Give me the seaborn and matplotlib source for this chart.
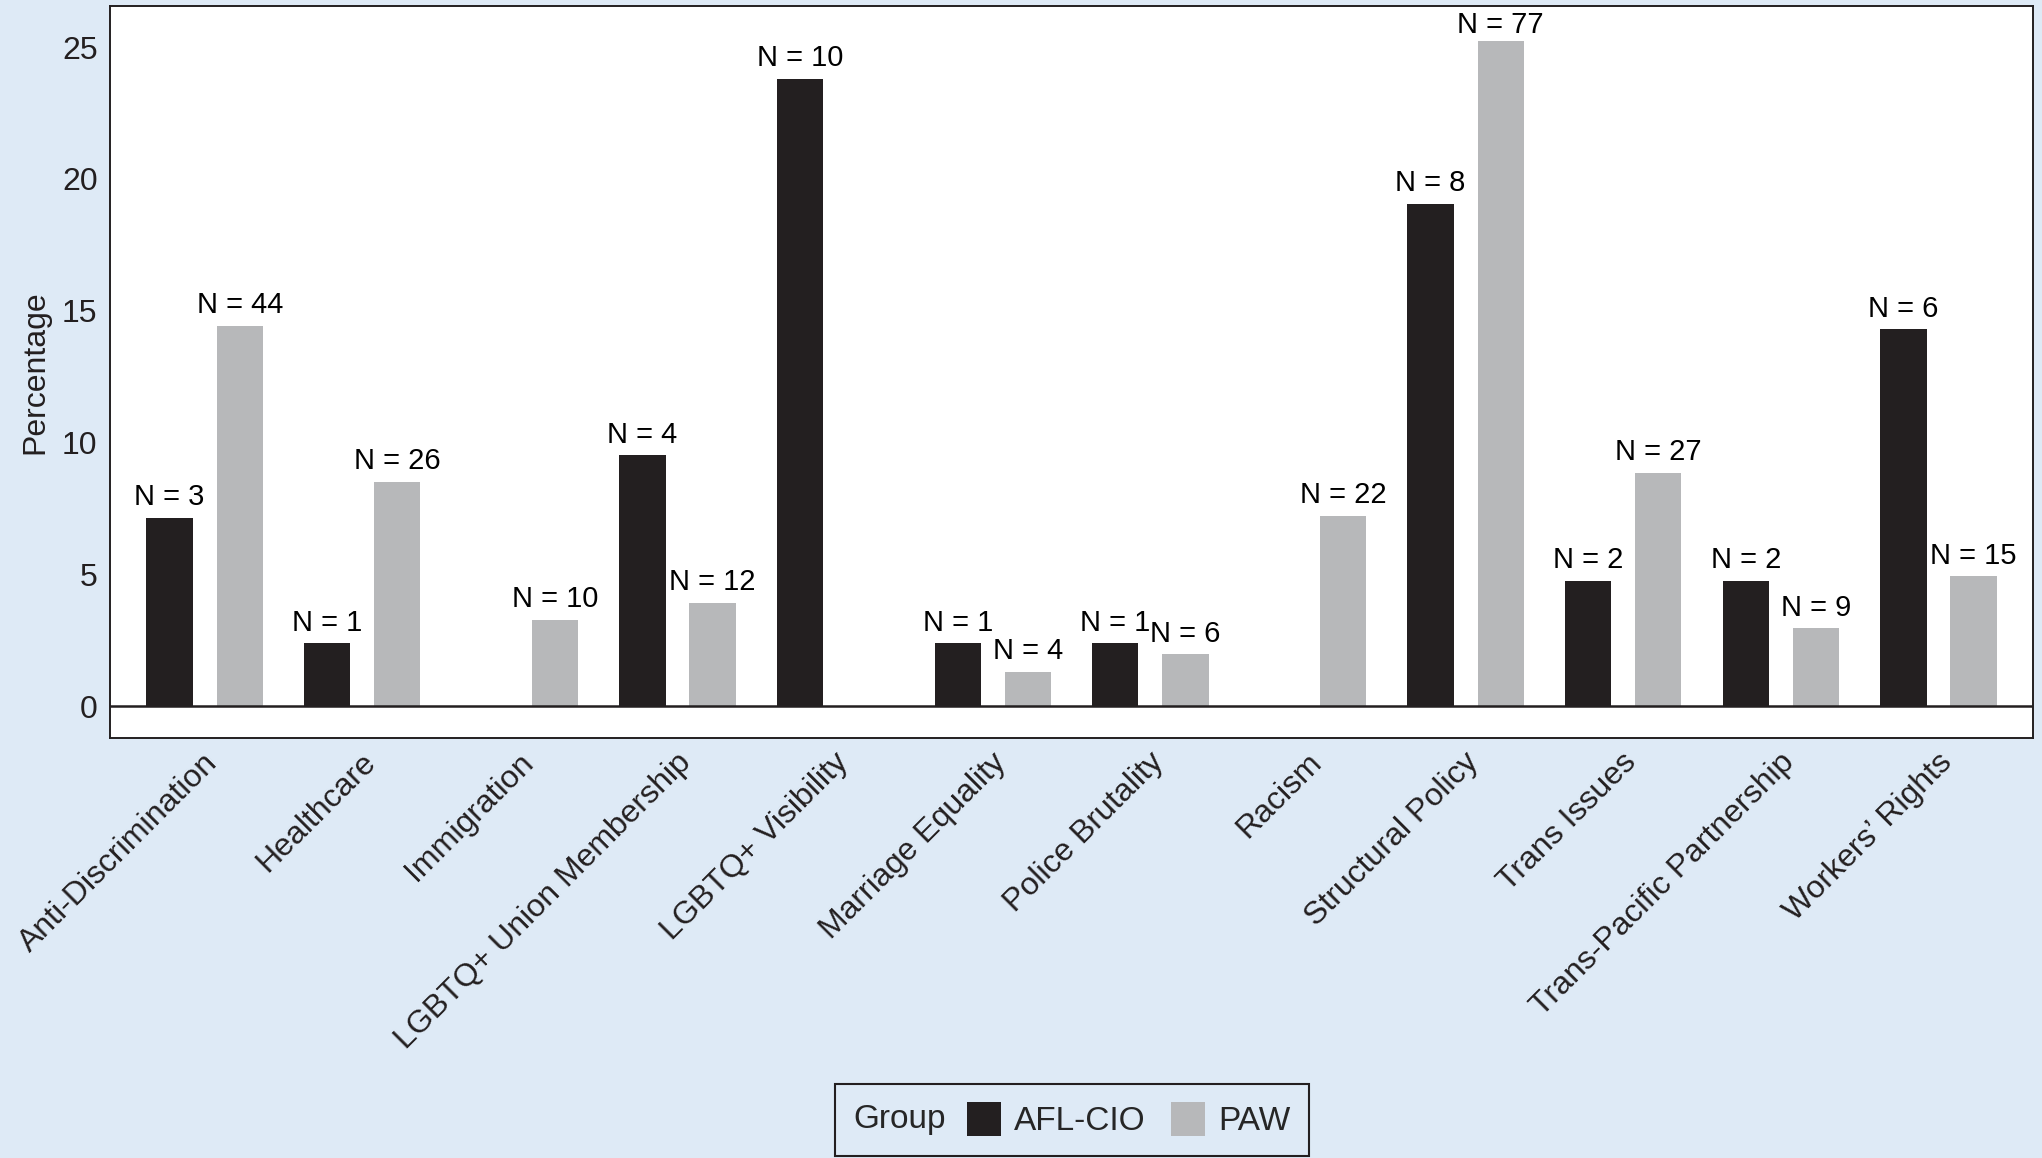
import pandas as pd
import matplotlib.pyplot as plt
import matplotlib.transforms as mtransforms
import seaborn as sns
from matplotlib.patches import Patch
from matplotlib.offsetbox import HPacker

# --- Data ---
topics = [
    "Anti-Discrimination", "Healthcare", "Immigration", "LGBTQ+ Union Membership",
    "LGBTQ+ Visibility", "Marriage Equality", "Police Brutality", "Racism",
    "Structural Policy", "Trans Issues", "Trans-Pacific Partnership", "Workers’ Rights",
]
groups = ["AFL-CIO", "PAW"]
afl_pct = [7.14, 2.38, 0, 9.52, 23.81, 2.38, 2.38, 0, 19.05, 4.76, 4.76, 14.29]
paw_pct = [14.43, 8.52, 3.28, 3.93, 0, 1.31, 1.97, 7.21, 25.25, 8.85, 2.95, 4.92]
afl_n = [3, 1, None, 4, 10, 1, 1, None, 8, 2, 2, 6]
paw_n = [44, 26, 10, 12, None, 4, 6, 22, 77, 27, 9, 15]

BG = "#deeaf6"
DARK = "#231f20"
GREY = "#b7b8ba"

df = pd.DataFrame({
    "Topic": topics * 2,
    "Group": [groups[0]] * len(topics) + [groups[1]] * len(topics),
    "Percentage": afl_pct + paw_pct,
})
n_labels = {groups[0]: afl_n, groups[1]: paw_n}

sns.set_theme(style="white")
plt.rcParams['font.family'] = ['Liberation Sans', 'DejaVu Sans']

fig, ax = plt.subplots(figsize=(20.42, 11.58), dpi=100)
fig.patch.set_facecolor(BG)
fig.subplots_adjust(left=0.0539, right=0.9956, top=0.9948, bottom=0.3627)
ax.set_facecolor("white")

sns.barplot(
    data=df, x="Topic", y="Percentage", hue="Group",
    order=topics, hue_order=groups, palette=[DARK, GREY],
    width=0.89, gap=0.34, saturation=1, errorbar=None,
    linewidth=0, legend=False, ax=ax,
)

# N labels above bars (kept inside the frame near the top)
for grp, cont in zip(groups, ax.containers):
    for bar in cont:
        xc = bar.get_x() + bar.get_width() / 2
        idx = int(round(xc))
        n = n_labels[grp][idx]
        if n is None:
            continue
        y_txt = min(bar.get_height() + 0.48, 25.55)
        ax.text(xc, y_txt, f"N = {n}", ha="center", va="baseline",
                fontsize=21, color="black", zorder=5)

ax.axhline(0, color=DARK, lw=1.8, zorder=3)
ax.set_xlim(-0.6, 11.6)
ax.set_ylim(-1.21, 26.56)
ax.set_yticks([0, 5, 10, 15, 20, 25])
ax.set_xticks(range(len(topics)))
ax.set_xticklabels(topics, rotation=45, ha="right", va="center",
                   rotation_mode="anchor")
ax.tick_params(axis="both", length=0, labelsize=23, colors=DARK)
ax.tick_params(axis="x", pad=18)
ax.tick_params(axis="y", pad=9)
shift = mtransforms.ScaledTranslation(0.09, 0.05, fig.dpi_scale_trans)
for lbl in ax.get_xticklabels():
    lbl.set_transform(lbl.get_transform() + shift)
ax.set_xlabel("")
ax.set_ylabel("Percentage", fontsize=23, color=DARK, labelpad=8)

for sp in ax.spines.values():
    sp.set_visible(True)
    sp.set_color(DARK)
    sp.set_linewidth(1.4)

# Legend with the "Group" title placed inline to the left
handles = [Patch(facecolor=c, edgecolor="none") for c in [DARK, GREY]]
leg = fig.legend(
    handles, groups, title="Group", ncol=2, loc="center",
    bbox_to_anchor=(0.525, 0.033), fontsize=24, title_fontsize=24,
    frameon=True, fancybox=False, framealpha=1, facecolor=BG,
    edgecolor=DARK, handlelength=1.02, handleheight=1.17,
    handletextpad=0.4, columnspacing=0.75, borderpad=0.4,
)
leg.get_frame().set_linewidth(1.5)
fs = 24 * 100 / 72
leg._legend_box = HPacker(
    pad=0.4 * fs, sep=0.45 * fs, align="center",
    children=[leg._legend_title_box, leg._legend_handle_box],
)
leg._legend_box.set_figure(fig)
leg._legend_box.set_offset(leg._findoffset)

fig.savefig("out.png", dpi=100, facecolor=BG)
